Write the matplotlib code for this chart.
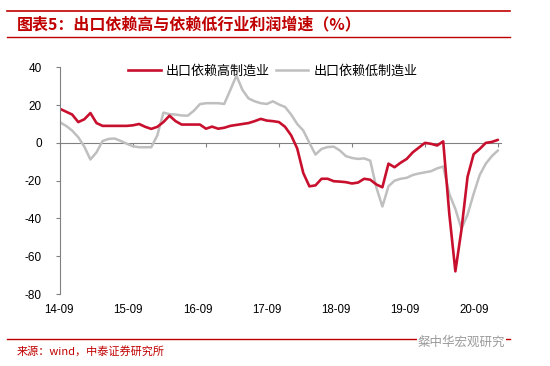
import numpy as np
import matplotlib
matplotlib.use("Agg")
import matplotlib.pyplot as plt
from matplotlib.lines import Line2D

plt.rcParams['font.family'] = ['Liberation Sans', 'Noto Sans CJK SC', 'DejaVu Sans']

# monthly profit growth (%), 2014-09 .. 2020-09
high_dep = [18, 16.5, 15, 11, 12.5, 15.8, 10.5, 9, 9, 9, 9, 9,
            9.3, 10, 8.5, 7.4, 8.5, 11, 14.4, 11.5, 9.7, 9.7, 9.7, 9.7,
            7.5, 8.6, 7.5, 8, 9, 9.5, 10, 10.5, 11.5, 12.7, 11.8, 11.5,
            11, 8.5, 4, -3, -16, -23, -22.5, -19, -19, -20.3, -20.5, -20.8,
            -21.5, -21, -19, -19.5, -22, -23.5, -11, -12.9, -10.5, -8.5, -5, -2.5,
            0, -0.5, -1.4, 0.8, -37.6, -68, -46, -18, -6, -3.2, 0, 0.5,
            1.6]
low_dep = [10.9, 9, 6.5, 3, -2, -8.8, -5, 1, 2.1, 2.3, 1, -0.5,
           -1.8, -2.3, -2.3, -2.3, 4, 16, 15.2, 15, 14.5, 14.4, 17, 20.5,
           21, 21, 21, 20.6, 28, 35.6, 28, 23.5, 22, 21, 20.6, 22,
           20.3, 19, 15, 10, 6.5, 0, -6.2, -3.2, -2.2, -2, -4, -7,
           -8, -8.5, -8.2, -9.4, -23.5, -33.7, -23, -20, -19, -18.5, -17, -16.2,
           -15.6, -15, -13.5, -12.5, -27, -35, -45.5, -38, -27, -17, -11, -7,
           -4]
x_labels = ["14-09", "15-09", "16-09", "17-09", "18-09", "19-09", "20-09"]
y_ticks = [40, 20, 0, -20, -40, -60, -80]
names = ["出口依赖高制造业", "出口依赖低制造业"]

red = "#C8102E"
grey = "#BFBFBF"
axis_col = "#808080"
title_red = "#C00000"

fig = plt.figure(figsize=(5.5, 3.66), dpi=100)
ax = fig.add_axes([0.1091, 0.1967, 0.8018, 0.6194])

x = np.arange(len(high_dep))
ax.plot(x, low_dep, color=grey, lw=1.8, solid_joinstyle='round', solid_capstyle='round')
ax.plot(x, high_dep, color=red, lw=1.9, solid_joinstyle='round', solid_capstyle='round')

ax.set_xlim(0, 72.5)
ax.set_ylim(-80, 40)
for s in ['top', 'right']:
    ax.spines[s].set_visible(False)
ax.spines['left'].set_color(axis_col)
ax.spines['bottom'].set_position(('data', 0))
ax.spines['bottom'].set_color(axis_col)
ax.spines['bottom'].set_zorder(0)

ax.set_yticks(y_ticks)
ax.set_yticklabels([str(v) for v in y_ticks], fontsize=8.5)
ax.tick_params(axis='y', direction='out', length=3, color=axis_col, pad=10)
ax.set_xticks(np.arange(0, 73, 12))
ax.set_xticklabels([])
ax.tick_params(axis='x', direction='out', length=3, color=axis_col)

for k, lab in enumerate(x_labels):
    ax.text(k * 11.38 - 0.16, -0.045, lab, transform=ax.get_xaxis_transform(),
            ha='center', va='top', fontsize=8.3)

handles = [Line2D([], [], color=red, lw=1.9), Line2D([], [], color=grey, lw=1.8)]
fig.legend(handles, names, loc='center left', bbox_to_anchor=(0.221, 0.806),
           ncol=2, frameon=False, borderpad=0, handlelength=2.5,
           handletextpad=0.4, columnspacing=0.45,
           prop={'family': ['Noto Sans CJK SC'], 'size': 9.4})

# header / footer
fig.add_artist(Line2D([0.013, 0.927], [0.97, 0.97], color=title_red, lw=1.2))
fig.add_artist(Line2D([0.013, 0.927], [0.899, 0.899], color=title_red, lw=1.0))
fig.add_artist(Line2D([0.013, 0.927], [0.074, 0.074], color=title_red, lw=1.0))
fig.text(0.031, 0.933, "图表5：出口依赖高与依赖低行业利润增速（%）", color=title_red,
         fontsize=11.5, fontweight='bold', style='italic', va='center',
         family=['Noto Sans CJK SC', 'DejaVu Sans'])
fig.text(0.031, 0.039, "来源：wind，中泰证券研究所", color=title_red, fontsize=8,
         va='center', family=['Noto Sans CJK SC', 'DejaVu Sans'])
fig.text(0.76, 0.066, "粲中华宏观研究", color="#9A9A9A", fontsize=9, va='center',
         family=['Noto Sans CJK SC', 'DejaVu Sans'],
         bbox=dict(facecolor='white', edgecolor='none', pad=0.5))

fig.savefig("out.png", dpi=100)
